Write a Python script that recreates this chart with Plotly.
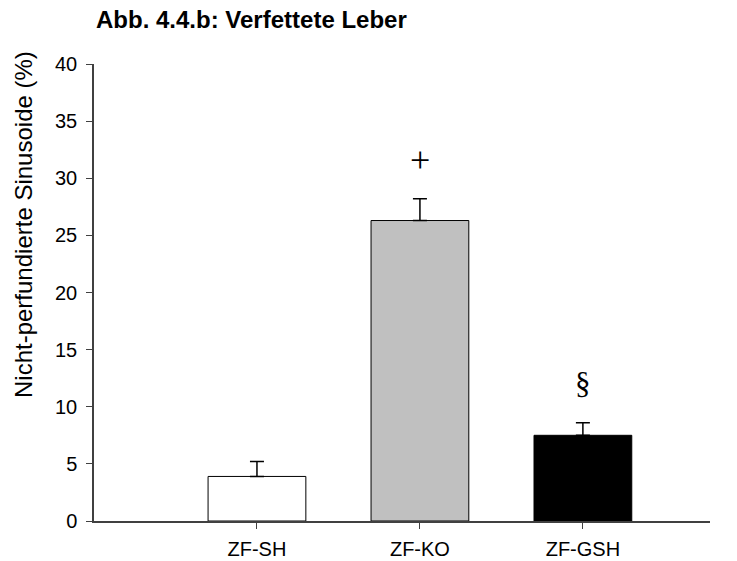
import plotly.graph_objects as go

categories = ["ZF-SH", "ZF-KO", "ZF-GSH"]
values = [3.9, 26.3, 7.5]
errors = [1.3, 1.9, 1.1]
colors = ["#ffffff", "#c0c0c0", "#000000"]
markers = ["", "+", "§"]
x_pos = [0, 1, 2]

W, H = 737, 561
ML, MR, MT, MB = 94, 27, 64, 40
PW, PH = W - ML - MR, H - MT - MB

fig = go.Figure()
fig.add_trace(go.Bar(
    x=x_pos, y=values, width=0.6,
    marker=dict(color=colors, line=dict(color="#000000", width=1)),
    error_y=dict(type="data", array=errors, arrayminus=[0, 0, 0], symmetric=False,
                 color="#000000", thickness=1.5, width=7),
    showlegend=False,
))

for xp, v, e, m in zip(x_pos, values, errors, markers):
    if m:
        fig.add_annotation(x=xp, y=v + e + 3.4, text=m, showarrow=False,
                           font=dict(family="Liberation Serif, Times New Roman, serif",
                                     size=36 if m == "+" else 31, color="#000000"),
                           xref="x", yref="y", yanchor="middle")

fig.add_annotation(text="Nicht-perfundierte Sinusoide (%)", textangle=-90,
                   x=(23 - ML) / PW, y=(H - MB - 225) / PH, xref="paper", yref="paper",
                   xanchor="center", yanchor="middle", showarrow=False,
                   font=dict(size=24, color="#000000"))

fig.update_layout(
    width=W, height=H,
    margin=dict(l=ML, r=MR, t=MT, b=MB, autoexpand=False),
    plot_bgcolor="#ffffff", paper_bgcolor="#ffffff",
    font=dict(family="Arial, Liberation Sans, sans-serif", size=19, color="#000000"),
    title=dict(text="<b>Abb. 4.4.b: Verfettete Leber</b>", x=96 / W, xanchor="left",
               y=1 - 20 / H, yanchor="middle", font=dict(size=24, color="#000000")),
    xaxis=dict(range=[-1.0, 2.78], tickmode="array", tickvals=x_pos, ticktext=categories,
               showline=True, linecolor="#404040", linewidth=1.5, ticks="outside",
               ticklen=6, tickcolor="#404040", showgrid=False, zeroline=False,
               tickfont=dict(size=20), automargin=False, ticklabelstandoff=3),
    yaxis=dict(range=[0, 40], tickvals=[0, 5, 10, 15, 20, 25, 30, 35, 40],
               showline=True, linecolor="#404040", linewidth=1.5, ticks="outside",
               ticklen=6, tickcolor="#404040", showgrid=False, zeroline=False,
               tickfont=dict(size=20), automargin=False, ticklabelstandoff=5),
)

fig.write_html("out.html", config={"displayModeBar": False},
               post_script="document.body.style.margin='0';")
